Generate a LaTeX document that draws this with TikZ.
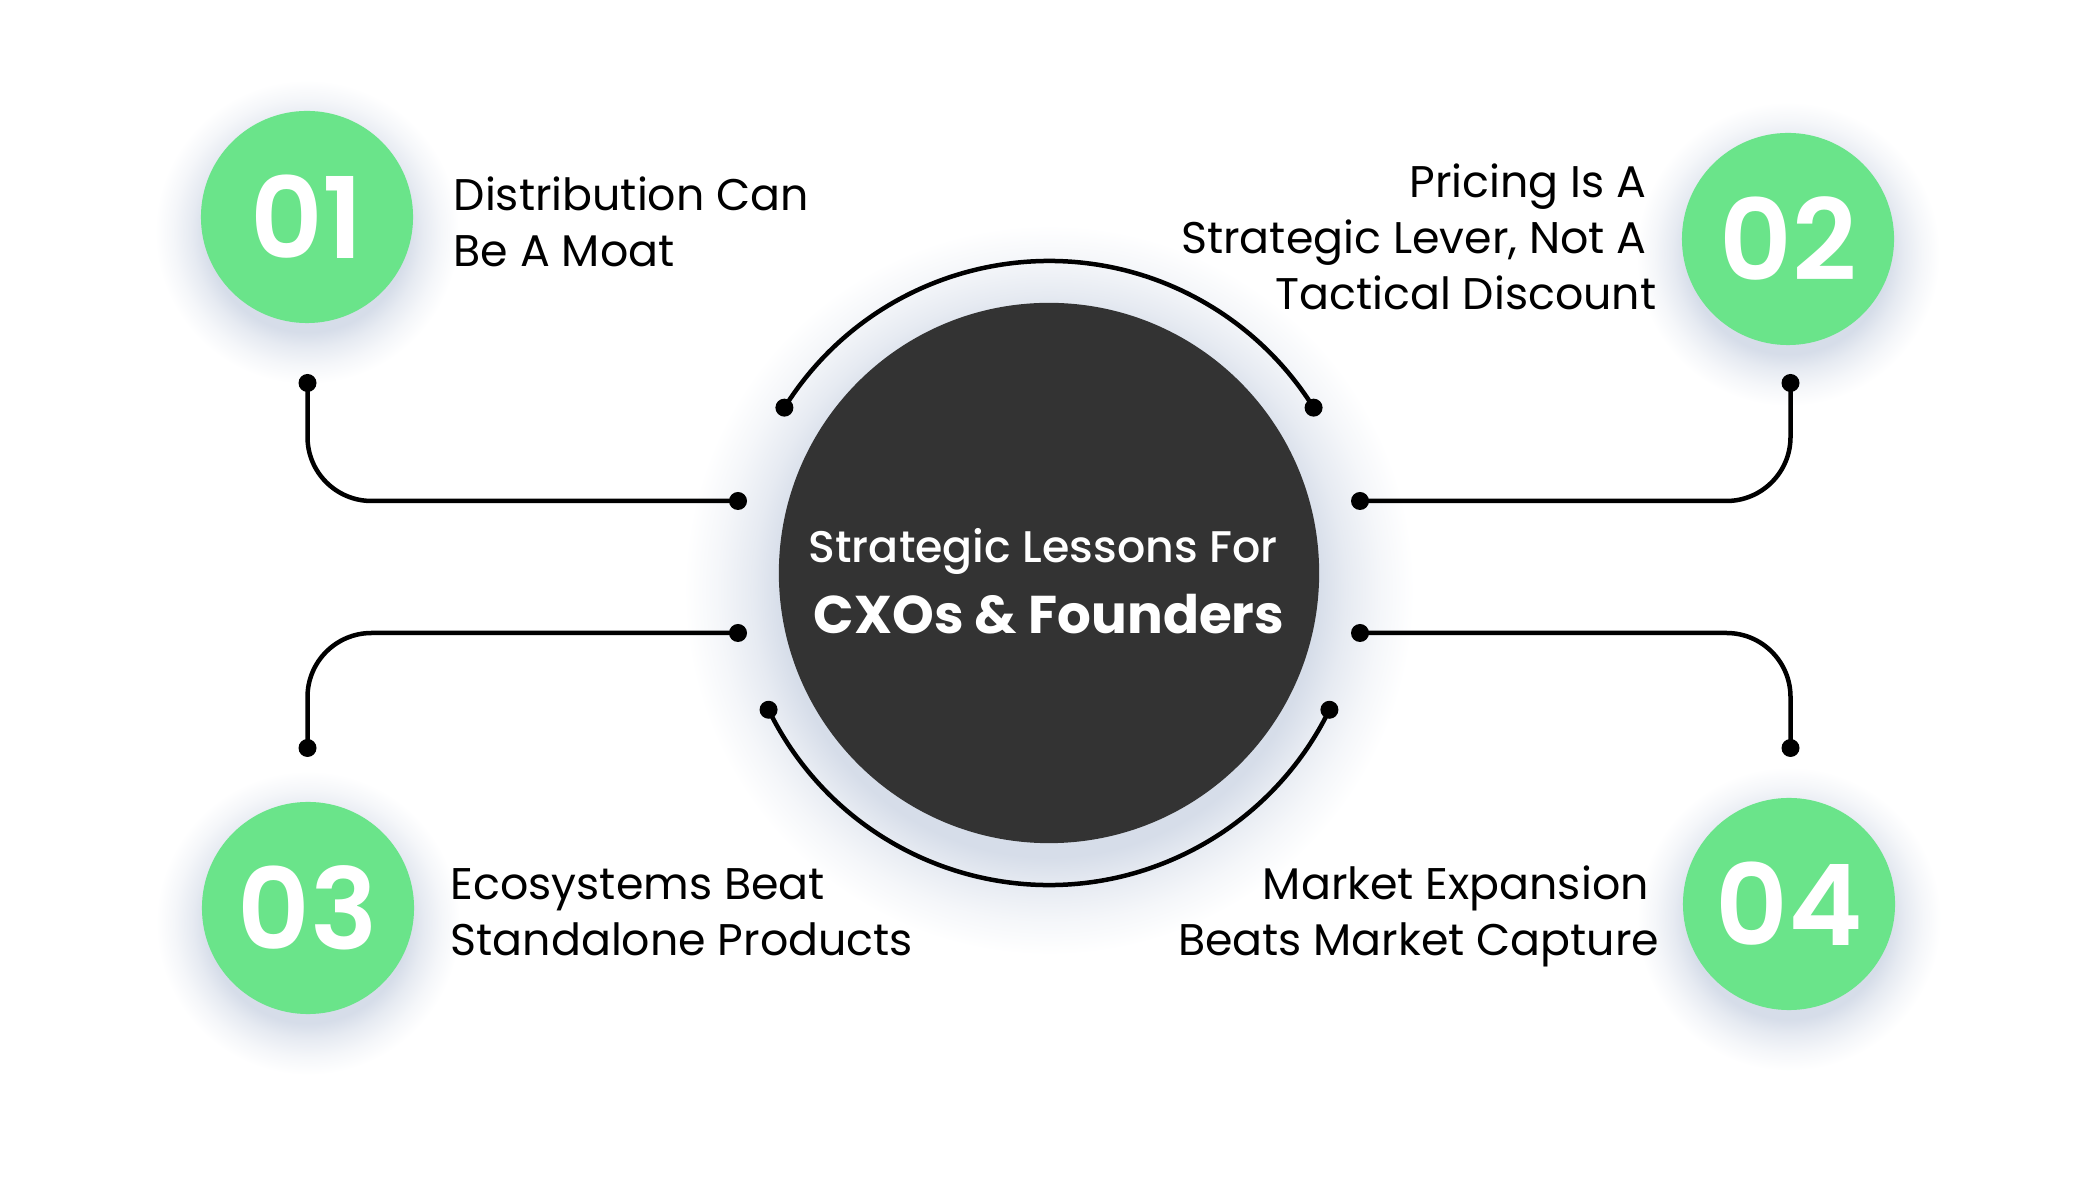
\documentclass[tikz,border=0pt]{standalone}
\usepackage{fontspec}
\setmainfont{Poppins}
\newfontfamily\popmed{Poppins Medium}
\newfontfamily\popsemi{Poppins SemiBold}
\usetikzlibrary{calc}
\definecolor{grn}{HTML}{6AE48A}
\definecolor{dark}{HTML}{333333}
\definecolor{shc}{HTML}{D6DDE9}
\colorlet{shcA}{shc!60!white}
\colorlet{shcB}{shc!25!white}
\pgfdeclareradialshading{gshade}{\pgfpoint{0bp}{0bp}}{color(0bp)=(shc); color(16.5bp)=(shc); color(19bp)=(shcA); color(22bp)=(shcB); color(25bp)=(white); color(50bp)=(white)}
\pgfdeclareradialshading{cshade}{\pgfpoint{0bp}{0bp}}{color(0bp)=(shc); color(18.3bp)=(shc); color(20.3bp)=(shcA); color(22.7bp)=(shcB); color(25bp)=(white); color(50bp)=(white)}
\begin{document}
\begin{tikzpicture}[x=0.01cm,y=0.01cm,
  conn/.style={line width=1.28pt, draw=black},
  dotc/.style={fill=black},
  numc/.style={circle, fill=grn, minimum size=2.12cm, inner sep=0pt, text=white,
    font=\popsemi\fontsize{32}{32}\selectfont},
  lbl/.style={inner sep=0pt, text=black, font=\fontsize{12.6}{15.9}\selectfont},
  ctr/.style={inner sep=0pt, text=white}
]
\fill[white] (0,0) rectangle (2100,1200);
\useasboundingbox (0,0) rectangle (2100,1200);

% soft shadows
\shade[shading=cshade] (1049,610) circle (365);
\shade[shading=gshade] (307,968) circle (152);
\shade[shading=gshade] (1788,946) circle (152);
\shade[shading=gshade] (308,277) circle (152);
\shade[shading=gshade] (1789,281) circle (152);

% central circle
\node[circle, fill=dark, minimum size=5.4cm, inner sep=0pt] (C) at (1049,627) {};
\node[ctr, font=\popmed\fontsize{12.6}{12.6}\selectfont, anchor=base] (ct1) at (1043,637) {Strategic Lessons For};
\node[ctr, font=\bfseries\fontsize{15.1}{15.1}\selectfont, anchor=base] (ct2) at (1049,566) {CXOs \& Founders};

% number circles
\node[numc] (n1) at (307,983) {01};
\node[numc] (n2) at (1788,961) {02};
\node[numc] (n3) at (308,292) {03};
\node[numc] (n4) at (1789,296) {04};

% labels
\node[lbl, anchor=base west] (t1) at (453,989)
  {\begin{tabular}[t]{@{}l@{}}Distribution Can\\Be A Moat\end{tabular}};
\node[lbl, anchor=base east] (t2) at (1657,1002)
  {\begin{tabular}[t]{@{}r@{}}Pricing Is A\kern2.8pt\\Strategic Lever, Not A\kern2.8pt\\Tactical Discount\end{tabular}};
\node[lbl, anchor=base west] (t3) at (450,300)
  {\begin{tabular}[t]{@{}l@{}}Ecosystems Beat\\Standalone Products\end{tabular}};
\node[lbl, anchor=base east] (t4) at (1660,300)
  {\begin{tabular}[t]{@{}r@{}}Market Expansion\kern3pt\\Beats Market Capture\end{tabular}};

% connector end points
\coordinate (a1) at (738,699);  \coordinate (b1) at (307.5,817);
\coordinate (a3) at (738,567);  \coordinate (b3) at (307.5,452);
\coordinate (a2) at (1360,699); \coordinate (b2) at (1790.5,817);
\coordinate (a4) at (1360,567); \coordinate (b4) at (1790.5,452);
\coordinate (u1) at ($(C.center)+(148:312)$);
\coordinate (u2) at ($(C.center)+(32:312)$);
\coordinate (l1) at ($(C.center)+(206:312)$);
\coordinate (l2) at ($(C.center)+(334:312)$);

% connectors
\draw[conn, rounded corners=0.64cm] (a1) -| (b1);
\draw[conn, rounded corners=0.64cm] (a3) -| (b3);
\draw[conn, rounded corners=0.64cm] (a2) -| (b2);
\draw[conn, rounded corners=0.64cm] (a4) -| (b4);
\draw[conn] (u1) arc[start angle=148, end angle=32, radius=312];
\draw[conn] (l1) arc[start angle=206, end angle=334, radius=312];

\foreach \p in {a1,b1,a2,b2,a3,b3,a4,b4,u1,u2,l1,l2}
  \fill[dotc] (\p) circle (9);
\end{tikzpicture}
\end{document}
